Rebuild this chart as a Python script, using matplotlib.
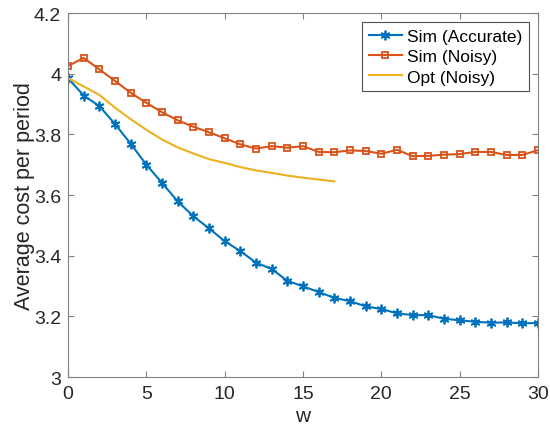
import matplotlib
matplotlib.use("Agg")
import matplotlib.pyplot as plt
import numpy as np

plt.rcParams['font.family'] = ['Liberation Sans', 'DejaVu Sans']

w = list(range(31))
sim_accurate = [3.985, 3.928, 3.893, 3.834, 3.769, 3.700, 3.640, 3.579, 3.530, 3.490,
                3.448, 3.415, 3.377, 3.356, 3.317, 3.299, 3.280, 3.261, 3.250, 3.233,
                3.224, 3.210, 3.204, 3.204, 3.192, 3.187, 3.182, 3.179, 3.180, 3.177, 3.178]
sim_noisy = [4.025, 4.052, 4.014, 3.976, 3.937, 3.904, 3.873, 3.846, 3.825, 3.807,
             3.787, 3.767, 3.753, 3.761, 3.756, 3.761, 3.742, 3.741, 3.747, 3.745,
             3.736, 3.749, 3.728, 3.729, 3.733, 3.735, 3.742, 3.742, 3.732, 3.732, 3.748]
w_opt = list(range(18))
opt_noisy = [3.985, 3.958, 3.930, 3.888, 3.850, 3.815, 3.783, 3.757, 3.737, 3.718,
             3.706, 3.692, 3.681, 3.673, 3.664, 3.657, 3.651, 3.645]

fig = plt.figure(figsize=(5.5, 4.31), dpi=100)
ax = fig.add_axes([68/550, 53/431, 470/550, 364/431])

ax.plot(w, sim_accurate, color='#0072BD', marker=(6, 2, 0), markersize=7,
        markeredgewidth=1.3, linewidth=1.5, label='Sim (Accurate)')
ax.plot(w, sim_noisy, color='#D95319', marker='s', markersize=5, markerfacecolor='none',
        markeredgewidth=1.3, linewidth=1.5, label='Sim (Noisy)')
ax.plot(w_opt, opt_noisy, color='#EDB120', linewidth=1.5, label='Opt (Noisy)')

ax.set_xlim(0, 30)
ax.set_ylim(3, 4.2)
ax.set_xticks([0, 5, 10, 15, 20, 25, 30])
ax.set_yticks([3, 3.2, 3.4, 3.6, 3.8, 4, 4.2])
ax.set_yticklabels(['3', '3.2', '3.4', '3.6', '3.8', '4', '4.2'])
ax.tick_params(direction='in', top=True, right=True, labelsize=14, colors='#808080',
               labelcolor='#262626', length=4, width=0.8)
ax.tick_params(axis='x', pad=6)
ax.tick_params(axis='y', pad=5)
for s in ax.spines.values():
    s.set_color('#808080')
    s.set_linewidth(0.8)

ax.set_xlabel('w', fontsize=15, color='#262626', labelpad=3)
ax.set_ylabel('Average cost per period', fontsize=15.5, color='#262626', labelpad=-1)

leg = ax.legend(loc='upper right', fontsize=12.5, frameon=True, fancybox=False,
                edgecolor='#262626', handlelength=1.9, borderpad=0.4, labelspacing=0.3,
                handletextpad=0.3, borderaxespad=0.5)
leg.get_frame().set_linewidth(0.8)

fig.savefig('out.png', dpi=100)
